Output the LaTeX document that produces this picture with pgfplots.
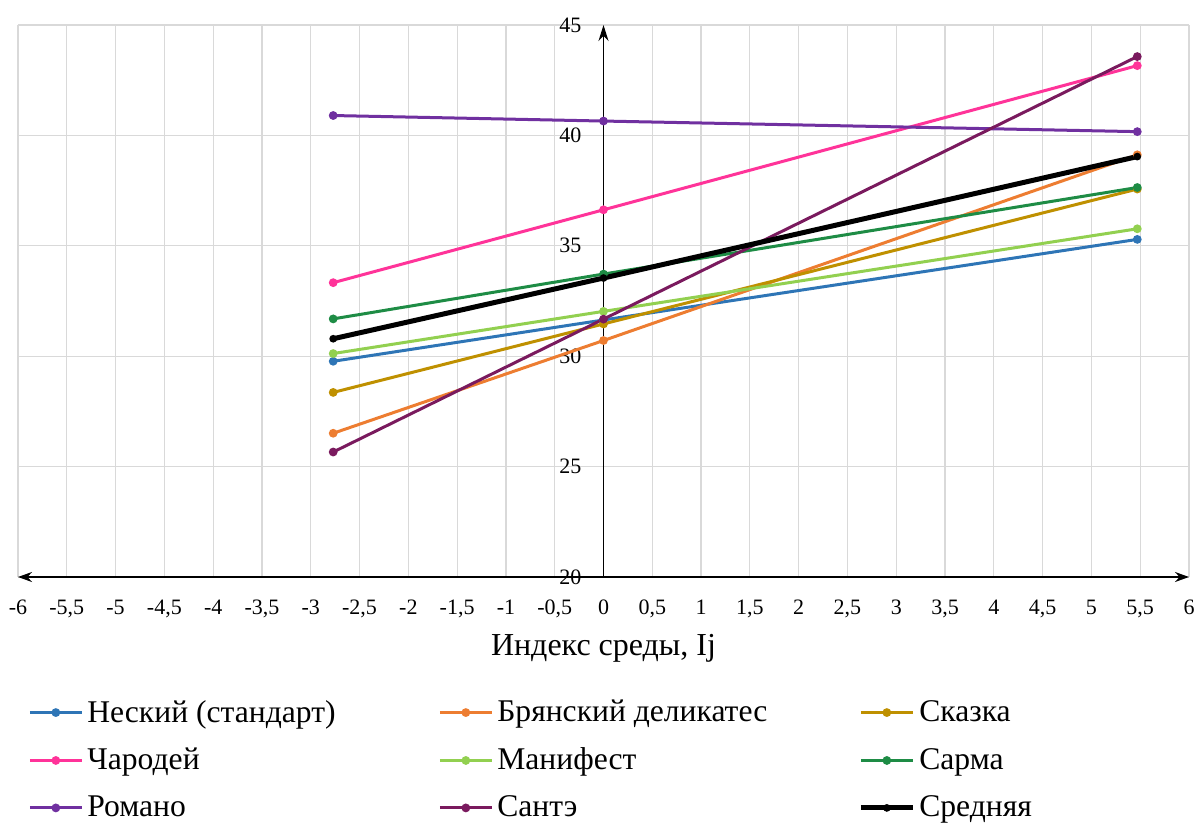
\documentclass[border=0pt]{standalone}
\usepackage{fontspec}
\setmainfont{Liberation Serif}
\usepackage{pgfplots}
\pgfplotsset{compat=1.18}
\usetikzlibrary{arrows.meta}
\definecolor{cNesk}{HTML}{2E75B6}
\definecolor{cBryan}{HTML}{ED7D31}
\definecolor{cSkaz}{HTML}{BF9000}
\definecolor{cChar}{HTML}{FF3399}
\definecolor{cMan}{HTML}{92D050}
\definecolor{cSar}{HTML}{1E8C45}
\definecolor{cRom}{HTML}{7030A0}
\definecolor{cSan}{HTML}{7A1A5E}
\begin{document}
\begin{tikzpicture}
\begin{axis}[
  scale only axis, width=585.5pt, height=276pt,
  xmin=-6, xmax=6, ymin=20, ymax=45,
  axis x line=bottom, axis y line=center,
  hide obscured y ticks=false,
  x axis line style={{Stealth[length=7pt,width=5pt]}-{Stealth[length=7pt,width=5pt]}, line width=0.9pt},
  y axis line style={-{Stealth[length=8pt,width=5pt]}, line width=0.6pt},
  xtick={-6,-5.5,-5,-4.5,-4,-3.5,-3,-2.5,-2,-1.5,-1,-0.5,0,0.5,1,1.5,2,2.5,3,3.5,4,4.5,5,5.5,6},
  ytick={20,25,30,35,40,45},
  major tick length=0pt,
  grid=major,
  major grid style={color=black!15, line width=0.6pt},
  /pgf/number format/.cd, use comma, 1000 sep={}, assume math mode=true,
  /pgfplots/.cd,
  tick label style={font=\fontsize{11}{13}\selectfont},
  xticklabel style={yshift=-8pt},
  yticklabel style={xshift=-7.5pt},
  xlabel={Индекс среды, Ij},
  xlabel style={font=\fontsize{16}{19}\selectfont, at={(axis description cs:0.5,0)}, anchor=center, yshift=-35.5pt},
  legend columns=3,
  legend cell align=left,
  legend image code/.code={\draw[mark repeat=2,mark phase=2,#1] plot coordinates {(0pt,0pt) (13pt,0pt) (26pt,0pt)};},
  legend style={draw=none, fill=none, at={(0.0085,-0.3315)}, anchor=west,
    font=\fontsize{15.8}{18}\selectfont, row sep=7.5pt, inner sep=0pt},
  every axis plot/.append style={line width=1.5pt, mark=*, mark size=1.4pt},
]
\addplot[color=cNesk] coordinates {(-2.77,29.77) (0,31.64) (5.47,35.29)};
\addlegendentry{\makebox[173.5pt][l]{Неский (стандарт)}}
\addplot[color=cBryan] coordinates {(-2.77,26.51) (0,30.71) (5.47,39.12)};
\addlegendentry{\makebox[178.5pt][l]{Брянский деликатес}}
\addplot[color=cSkaz] coordinates {(-2.77,28.36) (0,31.46) (5.47,37.57)};
\addlegendentry{Сказка}
\addplot[color=cChar] coordinates {(-2.77,33.33) (0,36.63) (5.47,43.16)};
\addlegendentry{Чародей}
\addplot[color=cMan] coordinates {(-2.77,30.12) (0,32.03) (5.47,35.77)};
\addlegendentry{Манифест}
\addplot[color=cSar] coordinates {(-2.77,31.69) (0,33.72) (5.47,37.64)};
\addlegendentry{Сарма}
\addplot[color=cRom] coordinates {(-2.77,40.90) (0,40.65) (5.47,40.17)};
\addlegendentry{Романо}
\addplot[color=cSan] coordinates {(-2.77,25.66) (0,31.68) (5.47,43.57)};
\addlegendentry{Сантэ}
\addplot[color=black, line width=2.5pt, mark options={line width=1pt}] coordinates {(-2.77,30.79) (0,33.54) (5.47,39.04)};
\addlegendentry{Средняя}
\end{axis}
\pgfresetboundingbox
\path[use as bounding box] ([shift={(-9pt,-126pt)}]current axis.south west) rectangle ([shift={(4.5pt,12.5pt)}]current axis.north east);
\end{tikzpicture}
\end{document}
